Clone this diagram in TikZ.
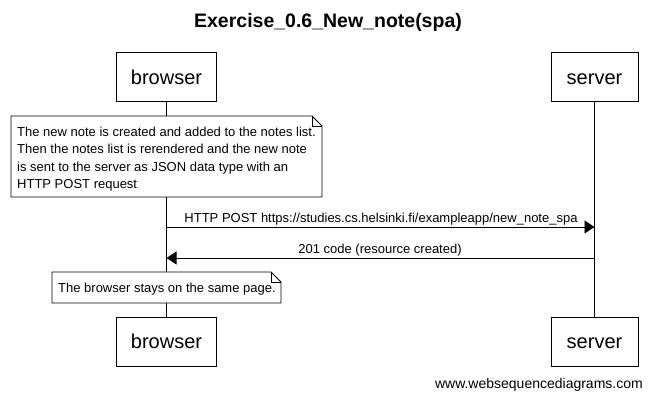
\documentclass[tikz,border=0pt]{standalone}
\usepackage{fontspec}
\setmainfont{Liberation Sans}
\usetikzlibrary{arrows.meta}
\tikzset{
  actor/.style={draw,line width=1pt,fill=white,minimum width=100pt,minimum height=49pt,inner sep=0pt,text height=14.5pt,text depth=0.5pt,font=\fontsize{20}{24}\selectfont},
  srvactor/.style={actor,minimum width=87pt},
  notetext/.style={inner sep=0pt,align=left,font=\fontsize{13}{17.6}\selectfont},
  notebox/.style={draw,line width=0.8pt,fill=white},
  msg/.style={line width=0.8pt,-{Triangle[length=10pt,width=13pt]}},
  msglabel/.style={inner sep=0pt,font=\fontsize{13}{15}\selectfont},
  life/.style={line width=0.8pt}
}
\begin{document}
\begin{tikzpicture}[x=1pt,y=-1pt]
\useasboundingbox (0,0) rectangle (652,400);
\node[font=\bfseries\fontsize{19.5}{23}\selectfont] (title) at (328,22) {Exercise\_0.6\_New\_note(spa)};
\node[actor] (bt) at (166.5,77) {browser};
\node[srvactor] (st) at (594.5,77) {server};
\node[actor] (bb) at (166.5,341.5) {browser};
\node[srvactor] (sb) at (594.5,341.5) {server};
\draw[life] (bt.south) -- (bb.north);
\draw[life] (st.south) -- (sb.north);
% note 1
\draw[notebox] (11,116) -- (312,116) -- (322,126) -- (322,197) -- (11,197) -- cycle;
\draw[line width=0.6pt] (312,116) -- (312,126) -- (322,126);
\node[notetext,anchor=north west] (n1) at (17,126.5) {The new note is created and added to the notes list.\\Then the notes list is rerendered and the new note\\is sent to the server as JSON data type with an\\HTTP POST request};
% messages
\coordinate (m1a) at (bt.south |- 0,227);
\coordinate (m1b) at (st.south |- 0,227);
\draw[msg] (m1a) -- (m1b);
\node[msglabel] (l1) at (381,219) {HTTP POST https://studies.cs.helsinki.fi/exampleapp/new\_note\_spa};
\coordinate (m2a) at (st.south |- 0,258);
\coordinate (m2b) at (bt.south |- 0,258);
\draw[msg] (m2a) -- (m2b);
\node[msglabel] (l2) at (380,250) {201 code (resource created)};
% note 2
\draw[notebox] (52,272) -- (271,272) -- (281,282) -- (281,303) -- (52,303) -- cycle;
\draw[line width=0.6pt] (271,272) -- (271,282) -- (281,282);
\node[msglabel,anchor=west] (n2) at (58,289) {The browser stays on the same page.};
\node[font=\fontsize{14}{16}\selectfont,anchor=east,inner sep=0pt] (footer) at (643,385) {www.websequencediagrams.com};
\end{tikzpicture}
\end{document}
